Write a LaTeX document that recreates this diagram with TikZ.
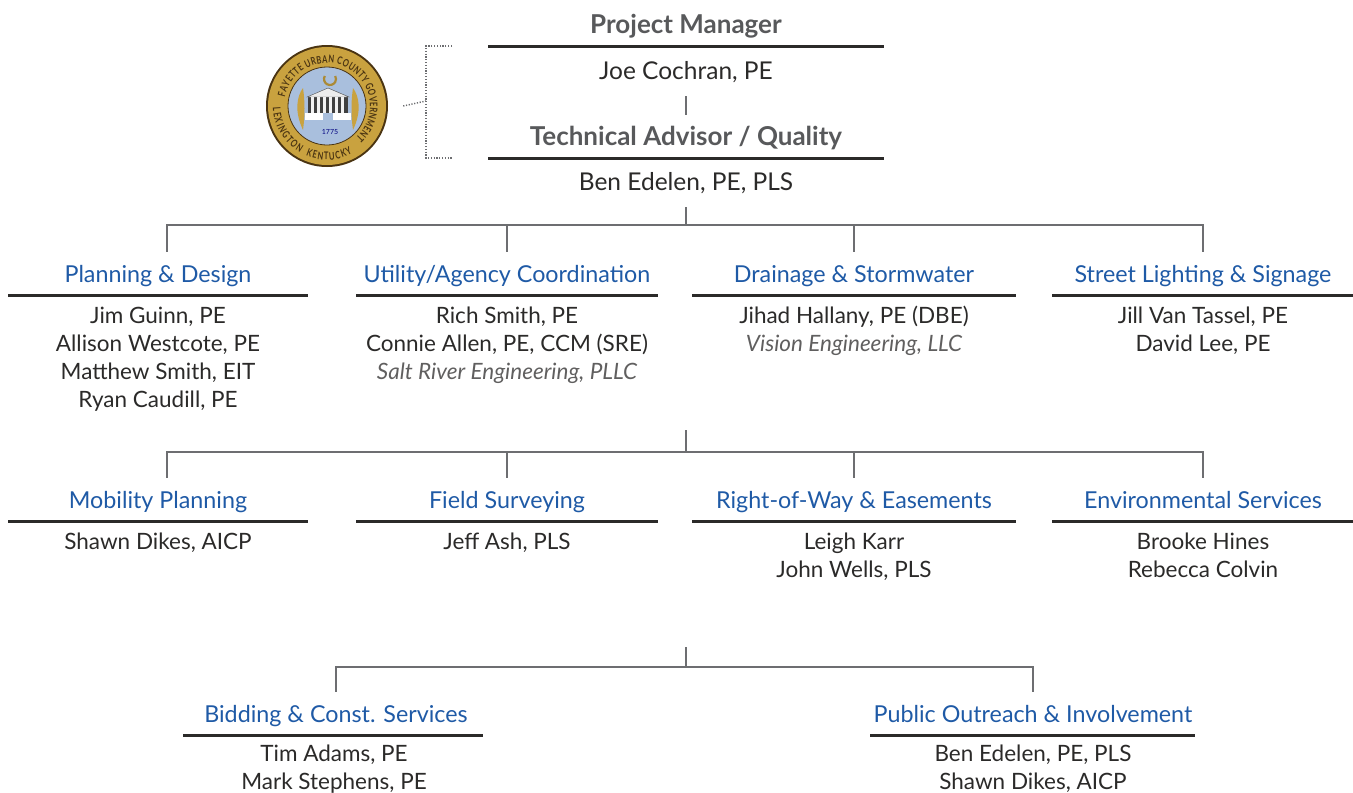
\documentclass[tikz,border=0pt]{standalone}
\usepackage{fontspec}
\setmainfont{Lato}
\newfontfamily\sealfont[FakeStretch=0.72]{Lato}
\usetikzlibrary{decorations.text}

\definecolor{ink}{HTML}{2B2A29}
\definecolor{unitblue}{HTML}{1F5AA6}
\definecolor{leadgray}{HTML}{58595B}
\definecolor{wiregray}{HTML}{6D6E71}
\definecolor{sealgold}{HTML}{C9A23F}
\definecolor{sealblue}{HTML}{A9BFDD}
\definecolor{sealbrown}{HTML}{4A3412}

\begin{document}
\begin{tikzpicture}[x=1pt, y=-1pt,
  lead/.style={font=\fontsize{26}{30}\selectfont\bfseries, text=leadgray, anchor=base, inner sep=0, text height=30pt, text depth=13pt},
  unit/.style={font=\fontsize{23.3}{28}\selectfont, text=unitblue, anchor=base, inner sep=0, text height=30pt, text depth=13pt},
  boss/.style={font=\fontsize{24.5}{28}\selectfont, text=ink, anchor=base, inner sep=0, text depth=17pt},
  who/.style={font=\fontsize{22.5}{28}\selectfont, text=ink, anchor=base, align=center, inner sep=0},
  rule/.style={draw=ink, line width=3pt},
  wire/.style={draw=wiregray, line width=2pt},
  dots/.style={draw=wiregray, line width=1.5pt, dash pattern=on 1.2pt off 1.6pt}]

\useasboundingbox (0,0) rectangle (1353,793);

% seal
\node[circle, minimum size=122pt, inner sep=0] (seal) at (327,106) {};
\begin{scope}[shift={(327,106)}, y=1pt]
  \fill[sealbrown] (0,0) circle (61);
  \fill[sealgold] (0,0) circle (59);
  \filldraw[fill=sealblue, draw=sealbrown, line width=0.8pt] (0,0) circle (39);
  \path[decorate, decoration={text along path, text align={fit to path},
    text={|\sealfont\fontsize{10.5}{11}\selectfont\bfseries\color{sealbrown}|FAYETTE URBAN COUNTY GOVERNMENT}}]
    (168:43) arc[start angle=168, end angle=-48, radius=43];
  \path[decorate, decoration={text along path, text align={fit to path},
    text={|\sealfont\fontsize{10.5}{11}\selectfont\bfseries\color{sealbrown}|LEXINGTON}}]
    (182:54) arc[start angle=182, end angle=240, radius=54];
  \path[decorate, decoration={text along path, text align={fit to path},
    text={|\sealfont\fontsize{10.5}{11}\selectfont\bfseries\color{sealbrown}|KENTUCKY}}]
    (247:54) arc[start angle=247, end angle=298, radius=54];
  % horseshoe and branches
  \draw[sealgold!85!black, line width=2.2pt] (3,27) ++(150:6) arc[start angle=150, end angle=390, radius=6];
  \fill[sealgold] (-24,-24) .. controls (-33,-5) and (-30,10) .. (-24,18) .. controls (-22,5) and (-22,-10) .. cycle;
  \fill[sealgold] (26,-24) .. controls (35,-5) and (32,10) .. (26,18) .. controls (24,5) and (24,-10) .. cycle;
  % building
  \fill[black!75] (-19,-7) rectangle (21,9);
  \filldraw[fill=white!85!gray, draw=black!70] (-20,9) -- (22,9) -- (1,18) -- cycle;
  \foreach \c in {-16,-10,-4,2,8,14} \fill[white!90!gray] (\c,-7) rectangle ++(2.5,16);
  \fill[white] (-22,-7) rectangle (-4,-14);
  \fill[white] (6,-7) rectangle (24,-14);
  \node[font=\fontsize{7}{7}\selectfont, text=blue!50!black] (year) at (3,-26) {1775};
\end{scope}
\coordinate (brk) at (426,101);
\draw[dots] ([xshift=15pt]seal.east) -- (brk);
\draw[dots] (452,46) -| (426,158) -- (452,158);

% top of chart
\node[lead] (pm) at (686,33) {Project Manager};
\draw[rule] ([xshift=-198pt]pm.south) -- ([xshift=198pt]pm.south);
\node[boss] (jc) at (686,79) {Joe Cochran, PE};
\node[lead] (ta) at (686,145) {Technical Advisor / Quality};
\draw[wire] (jc) -- (ta);
\draw[rule] ([xshift=-198pt]ta.south) -- ([xshift=198pt]ta.south);
\node[boss] (be) at (686,190) {Ben Edelen, PE, PLS};

% first row
\coordinate (bus1) at (686,225);
\node[unit] (pd) at (158,282) {Planning \& Design};
\node[unit] (uac) at (507,282) {Utility/Agency Coordination};
\node[unit] (dsw) at (854,282) {Drainage \& Stormwater};
\node[unit] (sls) at (1203,282) {Street Lighting \& Signage};
\draw[wire] (be) -- (bus1);
\draw[wire] (bus1) -| ([xshift=9pt]pd.north);
\draw[wire] (bus1) -| (uac);
\draw[wire] (bus1) -| (dsw);
\draw[wire] (bus1) -| (sls);
\draw[rule] ([xshift=-150pt]pd.south) -- ([xshift=150pt]pd.south);
\draw[rule] ([xshift=-151pt]uac.south) -- ([xshift=151pt]uac.south);
\draw[rule] ([xshift=-162pt]dsw.south) -- ([xshift=162pt]dsw.south);
\draw[rule] ([xshift=-151pt]sls.south) -- ([xshift=151pt]sls.south);
% (base of a multi-line node = its last line)
\node[who] (pdn) at (158,407) {Jim Guinn, PE\\Allison Westcote, PE\\Matthew Smith, EIT\\Ryan Caudill, PE};
\node[who] (uacn) at (507,379) {Rich Smith, PE\\Connie Allen, PE, CCM (SRE)\\{\itshape\color{ink!75}Salt River Engineering, PLLC}};
\node[who] (dswn) at (854,351) {Jihad Hallany, PE (DBE)\\{\itshape\color{ink!75}Vision Engineering, LLC}};
\node[who] (slsn) at (1203,351) {Jill Van Tassel, PE\\David Lee, PE};

% second row
\coordinate (tick2) at (686,430);
\coordinate (bus2) at (686,452);
\node[unit] (mob) at (158,508) {Mobility Planning};
\node[unit] (fs) at (507,508) {Field Surveying};
\node[unit] (row) at (854,508) {Right-of-Way \& Easements};
\node[unit] (env) at (1203,508) {Environmental Services};
\draw[wire] (tick2) -- (bus2);
\draw[wire] (bus2) -| ([xshift=9pt]mob.north);
\draw[wire] (bus2) -| (fs);
\draw[wire] (bus2) -| (row);
\draw[wire] (bus2) -| (env);
\draw[rule] ([xshift=-150pt]mob.south) -- ([xshift=150pt]mob.south);
\draw[rule] ([xshift=-151pt]fs.south) -- ([xshift=151pt]fs.south);
\draw[rule] ([xshift=-162pt]row.south) -- ([xshift=162pt]row.south);
\draw[rule] ([xshift=-151pt]env.south) -- ([xshift=151pt]env.south);
\node[who] (mobn) at (158,549) {Shawn Dikes, AICP};
\node[who] (fsn) at (507,549) {Jeff Ash, PLS};
\node[who] (rown) at (854,577) {Leigh Karr\\John Wells, PLS};
\node[who] (envn) at (1203,577) {Brooke Hines\\Rebecca Colvin};

% third row
\coordinate (tick3) at (686,647);
\coordinate (bus3) at (686,667);
\node[unit] (bid) at (336,722) {Bidding \& Const. Services};
\node[unit] (pub) at (1033,722) {Public Outreach \& Involvement};
\draw[wire] (tick3) -- (bus3);
\draw[wire] (bus3) -| (bid);
\draw[wire] (bus3) -| (pub);
\draw[rule] ([xshift=-153pt]bid.south) -- ([xshift=147pt]bid.south);
\draw[rule] ([xshift=-163pt]pub.south) -- ([xshift=162pt]pub.south);
\node[who] (bidn) at (334,789) {Tim Adams, PE\\Mark Stephens, PE};
\node[who] (pubn) at (1033,789) {Ben Edelen, PE, PLS\\Shawn Dikes, AICP};

\end{tikzpicture}
\end{document}
